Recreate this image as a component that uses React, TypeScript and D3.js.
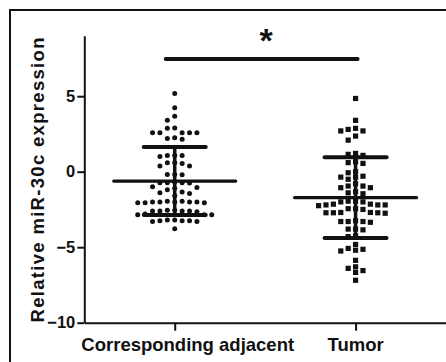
import React, { useRef, useEffect } from "react";
import * as d3 from "d3";

// groups on the x axis
const categories = ["Corresponding adjacent", "Tumor"];

// relative miR-30c expression, one value per sample
const adjacentValues = [
  5.18, 4.24, 3.68, 3.4, 2.9, 2.87, 2.58, 2.58, 2.58, 2.58, 2.58, 2.2, 2.15, 2.25,
  1.07, 1.0, 1.07, 1.07, 0.6, 0.6, 0.37, 0.37, 0.55, -0.18, -0.18, -0.2,
  -0.73, -0.73, -0.73, -0.75, -0.7, -1.0, -1.1, -1.05, -1.2, -1.45, -1.6, -1.4, -1.35,
  -2.0, -2.0, -2.05, -1.95, -2.0, -2.05, -2.0, -1.95, -2.0, -2.05,
  -2.6, -2.55, -2.6, -2.65, -2.6, -2.55, -2.6, -2.85, -2.85, -2.8, -2.85,
  -3.25, -3.2, -3.25, -3.3, -3.2, -3.25, -3.3, -3.78,
];
const tumorValues = [
  4.85, 3.4, 2.8, 2.7, 2.7, 2.87, 2.36, 2.09, 1.15, 1.08, 1.21, 0.6, 0.55, 0.65,
  -0.07, 0.0, -0.36, -0.36, -0.3, -0.5, -0.8, -1.06, -1.06, -0.95, -0.95, -1.33, -1.4, -1.46,
  -2.0, -1.95, -2.0, -1.95, -2.2, -2.2, -2.25, -2.15, -2.2, -2.15, -2.45, -2.45, -2.5,
  -2.72, -2.72, -2.7, -2.75, -2.72, -2.7, -3.3, -3.35, -3.3, -3.25, -3.3, -3.8, -3.85, -3.8,
  -4.25, -4.3, -4.82, -5.08, -5.14, -5.2, -5.25, -5.87, -6.3, -6.4, -6.55, -6.67, -7.19,
];

// mean and SD per group as drawn in the figure
const groupMeans = [-0.62, -1.72];
const groupSDs = [2.25, 2.67];

const yTicks = [-10, -5, 0, 5];
const yLabel = "Relative miR-30c expression";
const sigMark = "*";

const W = 446;
const H = 362;
const FONT = "Arial, 'Liberation Sans', sans-serif";

// Prism-like column swarm: place each value in the nearest free column
function swarm(values: number[], py: (v: number) => number, gap: number) {
  const cols = new Map<number, number[]>();
  const sorted = [...values].sort((a, b) => b - a);
  return sorted.map((v) => {
    const yy = py(v);
    let col = 0;
    for (let step = 0; step < 40; step++) {
      const c = step === 0 ? 0 : step % 2 ? -Math.ceil(step / 2) : Math.ceil(step / 2);
      const taken = cols.get(c) || [];
      if (taken.every((q) => Math.abs(q - yy) >= gap)) {
        col = c;
        break;
      }
    }
    cols.set(col, [...(cols.get(col) || []), yy]);
    return { v, col };
  });
}

const App = () => {
  const svgRef = useRef<SVGSVGElement>(null);

  useEffect(() => {
    const svg = d3.select(svgRef.current);
    svg.selectAll("*").remove();

    const left = 84.3;
    const bottom = 322.7;

    const x = d3.scalePoint<string>().domain(categories).range([left, W]).padding(0.5);
    const y = d3.scaleLinear().domain([-10, 9]).range([bottom, 35.8]);

    svg.append("rect").attr("width", W).attr("height", H).attr("fill", "#fff");
    // outer frame (cut off at right and bottom)
    svg
      .append("rect")
      .attr("x", 10)
      .attr("y", 10)
      .attr("width", 500)
      .attr("height", 400)
      .attr("fill", "none")
      .attr("stroke", "#111")
      .attr("stroke-width", 2);

    // points
    const colW = 7.4;
    const groups = [adjacentValues, tumorValues];
    groups.forEach((vals, gi) => {
      const cx = x(categories[gi])!;
      const pts = swarm(vals, y, 5.4);
      if (gi === 0) {
        svg
          .append("g")
          .selectAll("circle")
          .data(pts)
          .enter()
          .append("circle")
          .attr("cx", (d) => cx + d.col * colW)
          .attr("cy", (d) => y(d.v))
          .attr("r", 2.5)
          .attr("fill", "#111");
      } else {
        svg
          .append("g")
          .selectAll("rect")
          .data(pts)
          .enter()
          .append("rect")
          .attr("x", (d) => cx + d.col * colW - 2.6)
          .attr("y", (d) => y(d.v) - 2.6)
          .attr("width", 5.2)
          .attr("height", 5.2)
          .attr("fill", "#111");
      }
    });

    // mean and SD bars
    categories.forEach((c, i) => {
      const cx = x(c)!;
      const m = groupMeans[i];
      const s = groupSDs[i];
      const g = svg.append("g").attr("stroke", "#111").attr("stroke-linecap", "round");
      g.append("line")
        .attr("x1", cx).attr("x2", cx)
        .attr("y1", y(m + s)).attr("y2", y(m - s))
        .attr("stroke-width", 3.5);
      [m + s, m - s].forEach((v) => {
        g.append("line")
          .attr("x1", cx - 31).attr("x2", cx + 31)
          .attr("y1", y(v)).attr("y2", y(v))
          .attr("stroke-width", 4);
      });
      g.append("line")
        .attr("x1", cx - 61).attr("x2", cx + 61)
        .attr("y1", y(m)).attr("y2", y(m))
        .attr("stroke-width", 3.2);
    });

    // axes
    const yAxis = svg
      .append("g")
      .attr("transform", `translate(${left},0)`)
      .call(d3.axisLeft(y).tickValues(yTicks).tickSize(7).tickSizeOuter(0).tickPadding(2));
    yAxis.select(".domain").attr("stroke", "#111").attr("stroke-width", 2);
    yAxis.selectAll(".tick line").attr("stroke", "#111").attr("stroke-width", 2);
    yAxis
      .selectAll(".tick text")
      .attr("fill", "#111")
      .attr("font-family", FONT)
      .attr("font-weight", "bold")
      .attr("font-size", "16.5px");

    const xAxis = svg
      .append("g")
      .attr("transform", `translate(0,${bottom})`)
      .call(d3.axisBottom(x).tickSize(8).tickSizeOuter(0).tickFormat(() => ""));
    xAxis.select(".domain").attr("stroke", "#111").attr("stroke-width", 2);
    xAxis.selectAll(".tick line").attr("stroke", "#111").attr("stroke-width", 2);

    svg
      .selectAll(".xlab")
      .data(categories)
      .enter()
      .append("text")
      .attr("class", "xlab")
      .attr("x", (d) => x(d)!)
      .attr("dx", (d, i) => (i === 0 ? 13 : 0))
      .attr("y", 350.5)
      .attr("text-anchor", "middle")
      .attr("font-family", FONT)
      .attr("font-weight", "bold")
      .attr("font-size", "18.5px")
      .attr("fill", "#111")
      .text((d) => d);

    // y axis title
    svg
      .append("text")
      .attr("transform", `translate(43.5,180) rotate(-90)`)
      .attr("text-anchor", "middle")
      .attr("font-family", FONT)
      .attr("font-weight", "bold")
      .attr("font-size", "18.5px")
      .attr("textLength", 285)
      .attr("lengthAdjust", "spacing")
      .attr("fill", "#111")
      .text(yLabel);

    // significance bar
    const x0 = x(categories[0])!;
    const x1 = x(categories[1])!;
    svg
      .append("line")
      .attr("x1", x0 - 9)
      .attr("x2", x1 + 2)
      .attr("y1", 59)
      .attr("y2", 59)
      .attr("stroke", "#111")
      .attr("stroke-width", 4)
      .attr("stroke-linecap", "round");
    svg
      .append("text")
      .attr("x", (x0 + x1) / 2 + 1)
      .attr("y", 52)
      .attr("text-anchor", "middle")
      .attr("font-family", FONT)
      .attr("font-weight", "bold")
      .attr("font-size", "34px")
      .attr("fill", "#111")
      .text(sigMark);
  }, []);

  return (
    <div style={{ position: "absolute", left: 0, top: 0 }}>
      <svg ref={svgRef} width={W} height={H} style={{ display: "block" }} />
    </div>
  );
};

export default App;
